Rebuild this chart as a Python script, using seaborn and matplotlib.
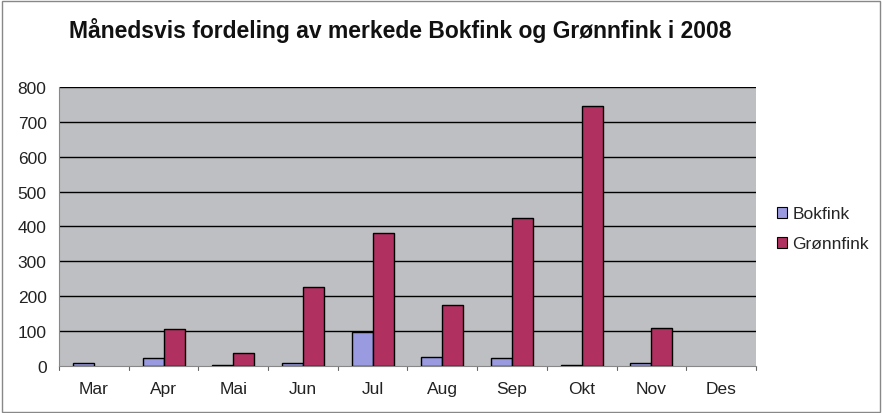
import matplotlib
matplotlib.use("Agg")
import matplotlib.pyplot as plt
import seaborn as sns
import pandas as pd
from matplotlib.patches import Rectangle, Patch

months = ["Mar", "Apr", "Mai", "Jun", "Jul", "Aug", "Sep", "Okt", "Nov", "Des"]
bokfink = [8, 22, 3, 8, 98, 25, 22, 3, 8, 0]
gronnfink = [0, 105, 37, 226, 381, 175, 424, 745, 108, 0]
series = ["Bokfink", "Grønnfink"]
colors = ["#9a9ae0", "#b0305f"]
yticks = [0, 100, 200, 300, 400, 500, 600, 700, 800]

df = pd.DataFrame({
    "Måned": months * 2,
    "Antall": bokfink + gronnfink,
    "Art": [series[0]] * len(months) + [series[1]] * len(months),
})

sns.set_style("white")
plt.rcParams["font.family"] = ["Liberation Sans", "DejaVu Sans"]

fig = plt.figure(figsize=(8.82, 4.14), dpi=100)
ax = fig.add_axes([0.067, 0.1135, 0.79, 0.674])
sns.barplot(data=df, x="Måned", y="Antall", hue="Art", order=months,
            hue_order=series, palette=colors, saturation=1, width=0.6,
            edgecolor="black", linewidth=1.0, ax=ax, legend=False, zorder=3)
for p in ax.patches:
    if p.get_height() == 0:
        p.set_edgecolor("none")

ax.set_facecolor("#bdbfc2")
ax.set_ylim(0, 800)
ax.set_xlim(-0.5, len(months) - 0.5)
ax.set_yticks(yticks)
ax.set_yticklabels([str(v) for v in yticks], fontsize=12.5, color="#222222")
ax.set_xticks(range(len(months)))
ax.set_xticklabels(months, fontsize=12.5, color="#222222")
ax.set_xlabel("")
ax.set_ylabel("")
for v in yticks[1:]:
    ax.axhline(v, color="black", linewidth=1.0, zorder=1)
for s in ["top", "right"]:
    ax.spines[s].set_visible(False)
ax.spines["left"].set_color("#888888")
ax.spines["bottom"].set_color("#888888")
ax.tick_params(axis="y", length=0, pad=9)
ax.tick_params(axis="x", length=0, pad=11)
for i in range(len(months) + 1):
    ax.plot([i - 0.5, i - 0.5], [0, -12], color="#666666", linewidth=0.8,
            clip_on=False, zorder=2)

fig.text(0.4535, 0.927, "Månedsvis fordeling av merkede Bokfink og Grønnfink i 2008",
         ha="center", va="center", fontsize=16.5, fontweight="bold", color="#111111")

handles = [Patch(facecolor=c, edgecolor="black", linewidth=0.8) for c in colors]
fig.legend(handles, series, loc="center left", bbox_to_anchor=(0.863, 0.445),
           frameon=False, fontsize=12.5, handlelength=0.6, handleheight=0.6,
           handletextpad=0.3, labelspacing=0.85)

fig.add_artist(Rectangle((0.002, 0.002), 0.996, 0.994, transform=fig.transFigure,
                         fill=False, edgecolor="#888888", linewidth=1.0))

fig.savefig("out.png", dpi=100, facecolor="white")
